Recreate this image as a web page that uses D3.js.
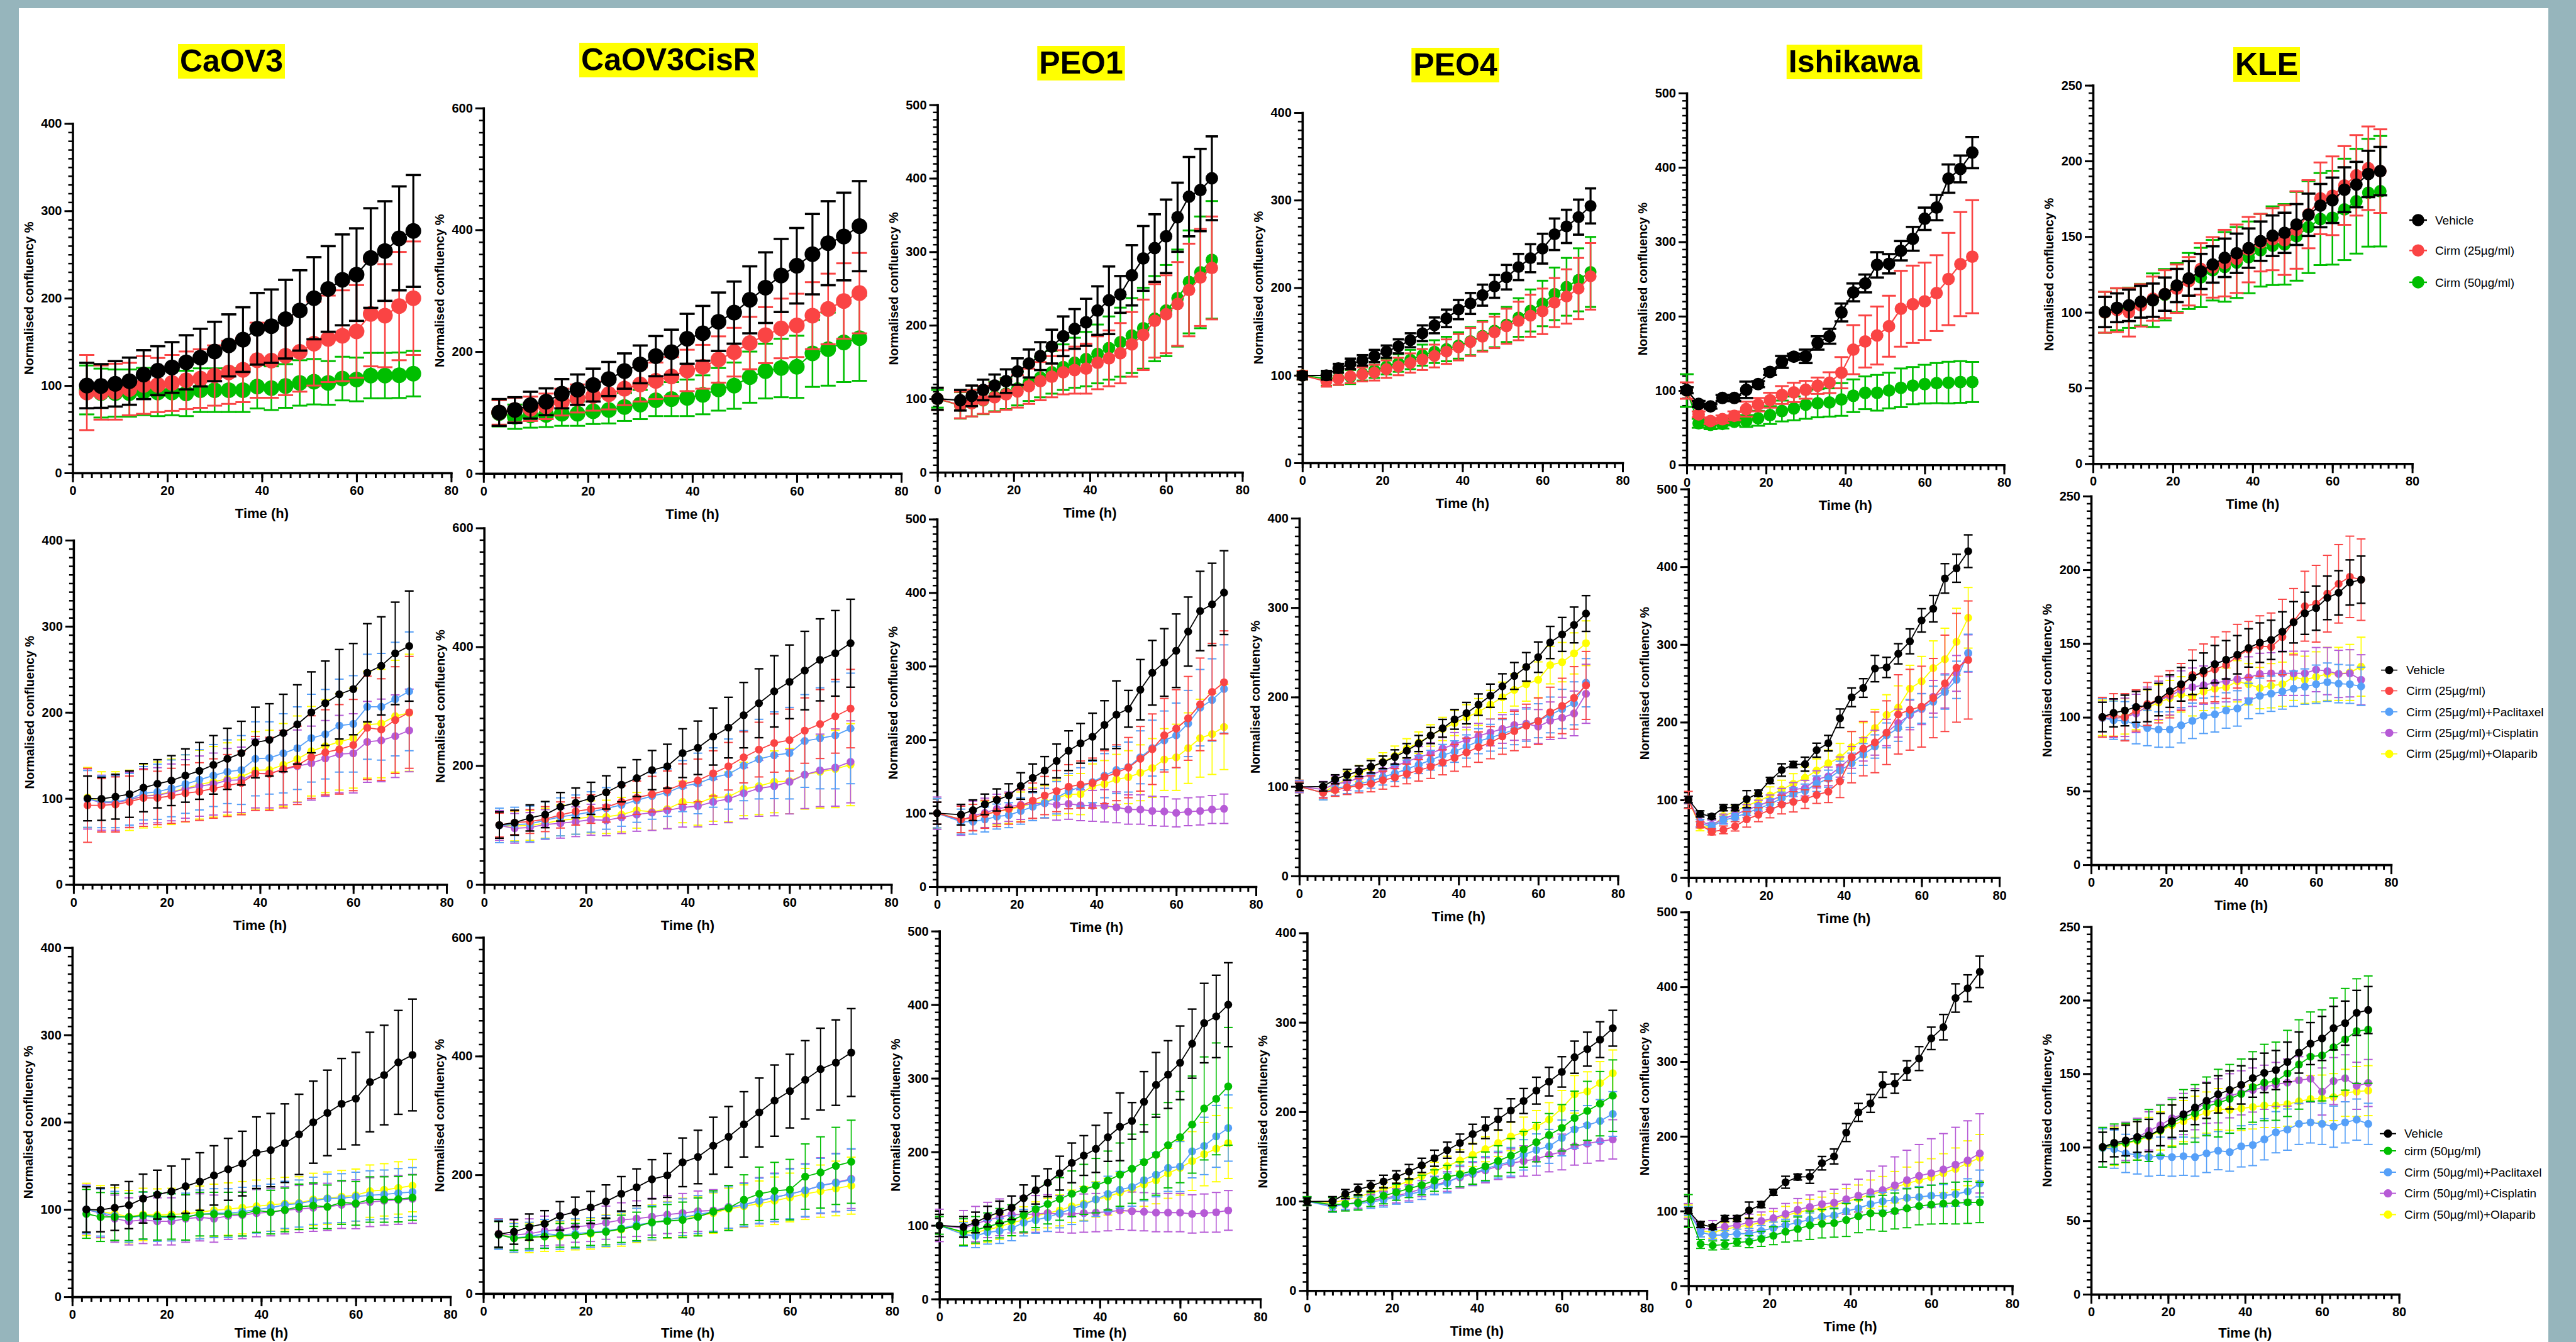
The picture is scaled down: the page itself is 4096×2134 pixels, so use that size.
<!DOCTYPE html>
<html>
<head>
<meta charset="utf-8">
<script src="https://cdnjs.cloudflare.com/ajax/libs/d3/7.8.5/d3.min.js"></script>
<style>
  body { margin: 0; background: #96b5bc; }
  svg { display: block; }
</style>
</head>
<body>
<script>
// time points (h)
var TIME_A = [3,6,9,12,15,18,21,24,27,30,33,36,39,42,45,48,51,54,57,60,63,66,69,72];
var TIME_B = [0,6,9,12,15,18,21,24,27,30,33,36,39,42,45,48,51,54,57,60,63,66,69,72];
var TIME_C = [0,3,6,9,12,15,18,21,24,27,30,33,36,39,42,45,48,51,54,57,60,63,66,69,72];

// ---- CaOV3 ----
var caov3_vehicle    = [100,99.5,102,105,112.5,117,120.7,126.6,132,139,146,152.6,165,168,176,186,200,210.6,221,227,246,254,268.5,277];
var caov3_vehicle_sd = [26,25,26,27,28,28,29,31,33,34,35.5,37,41,42,45,46,47,49,52,53,57,57,59.5,64];
var caov3_c25        = [92,92,93,96,100.6,100.6,103,106,108,111.5,115,118,129,128.5,134,138.5,148,153.5,157,162,182,180,191,200];
var caov3_c25_sd     = [43,31,32,30,33,31,32,33,33.5,34.5,36,37,43,42.5,45,45.5,48,49.5,52,53,60,59,62,65];
var caov3_c50        = [95,91.4,91.4,91.4,93.2,92,92,91,94.7,94.7,94.7,94.7,98.8,97,99.5,103,104.4,103,108,107,111.4,111.4,111.8,113.6];
var caov3_c50_sd     = [28,28,27,27,27,27,26,26,25,25,25,25,25,25,25,26,26,25,25,25,26,26,26,26];
var caov3_c25_pac    = [99.4,96,96,99,106,107.7,111.7,116.7,121.6,126.6,131,133,146,147,152.4,158.4,170,174.6,184.6,186.6,206.5,206.5,215.4,224.4];
var caov3_c25_pac_sd = [33,30,30,30,31,32,33,34,35,36,37,40,43,42,46,48,51,52,54,56,61,62,66,69];
var caov3_c25_cis    = [99.4,95,95,98.4,102.7,103.7,107,111,114.3,116.7,121,121.6,129,129,133.5,137.5,141,146.5,151.5,152.4,165.7,167.4,172.3,179];
var caov3_c25_cis_sd = [35,32,32,32,32,32,33,34,35,36,37,38,40,40,41,42,43,44,45,46,47,48,48,48];
var caov3_c25_ola    = [101,96,96,97.8,102.7,104.4,107.7,111.7,116,119.3,122.6,125,132.6,133.2,139,145.8,154.8,160.7,165.7,170,185.6,187,195.5,199.5];
var caov3_c25_ola_sd = [35,35,35,35,37,38,38,39,40,41,42,43,45,46,48,50,52,54,56,58,62,63,65,68];
var caov3_c50_pac    = [100,96.5,92.7,90.5,92.7,90.5,91,91.7,94.3,95.8,95.8,97.4,100,102,105.3,106.8,110,112.5,113,114.7,116.3,117.2,118.8,120];
var caov3_c50_pac_sd = [27,27,28,28,27,27,27,27,28,28,28,28,27,27,27,27,27,28,28,28,28,28,28,28];
var caov3_c50_cis    = [100,95.8,89.5,86.4,88,86.4,86.4,89.5,91,89.5,92.7,93.6,95.8,96.8,99,100.5,102,103,105.3,106,108.4,110,111,112.2];
var caov3_c50_cis_sd = [28,28,27,27,27,27,27,27,27,27,27,27,27,27,27,27,27,27,27,28,28,28,28,28];
var caov3_c50_ola    = [100,97.4,95,91.7,94.3,93.6,94.3,95,96.8,99,100.5,102,103.7,105.3,106.8,107.5,111.5,113,114.7,116.3,121,122.5,124.7,127.3];
var caov3_c50_ola_sd = [30,30,30,30,30,30,30,30,30,30,30,30,30,30,30,30,30,30,30,30,30,30,30,30];

// ---- CaOV3CisR ----
var cisr_vehicle    = [100,104,112,117.6,130.8,137.4,145,155,168,179,192.5,199,221,230,249,264,285,305,325,341,360,378,389,406];
var cisr_vehicle_sd = [22,21,22,22,24,25,27,28,29,31,33,37,41,45,48,51,55,58,60,62,66,69,72,74];
var cisr_c25        = [100,104,106,110,117,123,127,130,139,146,152,159,169,175,187,199,214,227,238,243,259,270,283,296];
var cisr_c25_sd     = [20,20,20,21,22,23,24,25,27,28,30,32,34,36,38,40,43,46,49,52,55,58,62,66];
var cisr_c50        = [99,93,95,96,98,98,102,104,109,113,120,122,124,129,138,144,158,168,173,175,197,204,215,222];
var cisr_c50_sd     = [22,20,20,20,20,20,21,22,23,24,26,28,30,32,35,38,42,45,48,51,55,60,65,70];
var cisr_c25_pac    = [99.4,101,102,108,113.8,117.6,122,128,134,141.6,148.8,154.6,165.6,170,180,185.8,200,211,217.5,221,241.5,246,251,262.6];
var cisr_c25_pac_sd = [29,29,30,31,32,33,34,35,36,37,39,40,43,51,50,59,59,67,73,77,78,85,90,93];
var cisr_c25_cis    = [99.4,94.6,96,101,103,105.6,109,108,112.8,117.6,121,124.8,129.6,132,139,144,153.6,161.8,165.6,172.8,184.8,192,196.8,206.4];
var cisr_c25_cis_sd = [25,25,25,25,25,25,26,26,27,28,30,31,33,35,38,40,43,47,50,54,57,61,65,69];
var cisr_c25_ola    = [99.4,98.4,99.4,103,108,110.4,113.8,113.8,117.6,124.8,122.4,127,139,136.8,146.4,147.4,160.8,165.6,172.8,174,184.8,189.6,194.4,201.6];
var cisr_c25_ola_sd = [25,25,25,25,26,26,27,28,29,30,31,33,35,37,40,42,45,48,52,55,58,61,65,69];
var cisr_c50_pac    = [99.4,93.8,96,100.8,98.5,100.8,103,105.4,110,115.6,119.3,123.9,128.5,133,137.8,144.7,149.3,156.3,161.8,167.8,173.8,181.7,186.3,191.9];
var cisr_c50_pac_sd = [25,24,24,24,24,25,25,26,27,28,29,30,31,32,33,35,36,38,40,42,44,46,49,52];
var cisr_c50_cis    = [100.8,98.5,100.8,105.4,107.7,112.3,114.7,119.3,123.9,126.2,129.4,133,135.5,138.7,140,146,149.3,156.3,161.8,167.8,173.8,181.7,187.2,193.2];
var cisr_c50_cis_sd = [25,25,25,25,26,26,27,28,29,30,31,32,33,34,35,36,37,39,41,43,45,47,49,50];
var cisr_c50_ola    = [100.8,93.8,93.8,96,96,98.5,100.8,105.4,107.7,114.7,119.3,123.9,128.5,130.8,135.5,142.4,147,151.6,156.3,161.8,167.8,172.5,177,181.7];
var cisr_c50_ola_sd = [25,25,25,25,25,25,26,27,28,29,30,31,32,33,34,35,36,38,40,41,43,44,46,48];

// ---- PEO1 ----
var peo1_vehicle    = [100,98,104,112,118,124,137,148,158,171,185,195,204,220,234,242,268,291,305,321,347,375,384,400];
var peo1_vehicle_sd = [15,14,14,14,15,16,18,19,19,23,27,27,32,33,46,25,41,44,46,50,47,54,56,57];
var peo1_c25        = [100,91.5,94,98.5,102,106,110,117,124,130,136,139,141,149,155,162,174,187,206,215,229,248,265,278];
var peo1_c25_sd     = [15,18,18,19,20,21,22,24,26,28,30,32,34,36,38,41,44,48,50,53,57,63,66,70];
var peo1_c50        = [100,91,94,98,103,107,114,122,129,136,143,149,154,161,169,177,186,196,209,220,237,259,272,289];
var peo1_c50_sd     = [12,18,18,19,20,21,23,25,27,29,31,34,37,40,43,47,51,55,58,62,66,70,76,80];
var peo1_c25_pac    = [100,88.5,88.5,91.5,95.4,97.3,103,108.8,113.8,121,130,135.8,142.3,151,158.8,162.7,176,188.5,199,205.8,222,243.5,254,269];
var peo1_c25_pac_sd = [20,17,17,17,17,17,18,19,20,22,24,26,28,30,32,34,36,38,40,44,45,52,56,60];
var peo1_c25_cis    = [100,90,96.5,100.4,105.8,108.8,111.5,112.7,113.5,111.5,112.7,110.8,110,110,108,105,105,103,102.3,100.4,102,103,105,106];
var peo1_c25_cis_sd = [22,20,20,20,20,20,20,20,20,21,21,21,21,22,21,20,20,20,20,19,19,19,19,20];
var peo1_c25_ola    = [100,91.5,94,98.5,102.3,105,108.8,113.5,115.4,121,125.4,126,137,139.6,146,149,155,161.5,173,176,188.5,202,207.7,217.3];
var peo1_c25_ola_sd = [20,18,18,18,18,19,20,21,22,24,26,28,30,32,34,36,38,40,42,45,48,53,55,58];
var peo1_c50_pac    = [100,87.6,85.8,90.6,92.5,96.2,103.7,107.4,111,116.7,122.3,127.9,135.3,142.8,148.4,152.1,161.4,168.9,178.2,180,200.6,208,221,232.3];
var peo1_c50_pac_sd = [15,16,16,16,17,17,18,18,19,20,21,22,23,24,25,26,28,30,32,34,36,39,42,45];
var peo1_c50_cis    = [100,96.2,101.8,107.4,111,114.8,114.8,115.6,116.7,115.6,115.6,116.7,117.4,118.6,120.4,119.3,118.6,117.4,117.4,117.4,115.6,116.7,117.8,120.4];
var peo1_c50_cis_sd = [22,24,24,24,25,25,25,25,25,25,26,26,26,26,26,26,26,26,26,26,26,26,27,27];
var peo1_c50_ola    = [100,89.5,90.6,94.3,98,103.7,107.4,113,116.7,120.4,126,129.8,135.3,139,144.7,149.1,155.9,161.4,170.8,178.2,187.5,196.9,204.3,211.8];
var peo1_c50_ola_sd = [15,16,16,17,17,18,18,19,20,21,22,23,24,25,27,28,30,32,34,37,40,43,45,48];

// ---- PEO4 ----
var peo4_vehicle    = [99.5,100,108,113,117,122,127,133,140,148,157,165,175,182,191.5,201.5,212,223.6,233.7,244.6,261,270,280.6,293.4];
var peo4_vehicle_sd = [4,5,5,6,6,7,7,8,8,9,9,10,11,12,12,13,14,15,16,17,18,19,20,20];
var peo4_c25        = [100,93,96,99,101,103,107,110,114,118,122,127,132,138,144,149,156,162,168,173,183,190,199,213];
var peo4_c25_sd     = [5,6,7,8,8,9,10,10,11,12,13,14,15,16,17,18,20,22,24,26,28,31,35,38];
var peo4_c50        = [100,96,97,98,102,106,110,114,118,123,127,130,134,139,145,151,158,166,174,182,193,201,209,218];
var peo4_c50_sd     = [5,8,8,8,8,9,9,10,11,12,13,14,15,16,17,19,20,22,24,26,30,33,36,40];
var peo4_c25_pac    = [100,93,98,100,103,106,110.6,114.6,119.5,124.4,129.3,135,139,144.7,150.6,154.5,158.8,163.7,168.6,173.5,180,186.6,193,216];
var peo4_c25_pac_sd = [6,8,8,8,8,8,9,9,10,10,11,12,12,13,14,15,16,17,18,19,20,22,24,27];
var peo4_c25_cis    = [100,96.6,103,104.7,109.7,113,118,122.7,127.7,132.6,136.8,142.4,147.3,152.2,156.5,160.4,164.3,168.6,170.2,167,173.5,176.8,181.7,203.6];
var peo4_c25_cis_sd = [7,9,9,9,10,10,10,11,11,12,12,13,13,14,14,15,16,17,18,19,21,23,25,33];
var peo4_c25_ola    = [100,93,101.5,108,114.6,121,127.7,134.2,142.4,149,157,164.3,170.9,177.4,183.3,191.5,199.7,207.9,214.4,219.3,235.7,239,248.8,260.2];
var peo4_c25_ola_sd = [7,8,8,9,9,10,10,11,11,12,12,13,14,14,15,16,17,18,19,20,21,22,23,25];
var peo4_c50_pac    = [100,93.5,96.7,97.3,99,101.4,104.6,107.7,110.9,117.2,120.3,128.2,131.3,136,140.8,144,151.8,157.2,161.3,170.7,180.2,184.9,189.6,197.5];
var peo4_c50_pac_sd = [5,6,6,7,7,8,8,9,9,10,11,12,13,14,15,16,17,18,19,20,21,22,24,25];
var peo4_c50_cis    = [100,95,96,99,100.8,103,106,109.3,114,117.8,121.9,126.6,130.4,134.5,139.2,142.4,144.9,147,151.8,155,161.3,164.4,167,169.1];
var peo4_c50_cis_sd = [5,6,6,7,7,8,8,9,9,10,11,12,13,14,15,16,17,18,19,20,21,22,22,22];
var peo4_c50_ola    = [100,98.3,101.4,104.6,109.3,113,117.2,122.5,128.2,133.5,139.2,145.5,151.8,158.1,165,172.3,177,183.3,191.2,203.8,219.5,222.7,232.1,243.1];
var peo4_c50_ola_sd = [5,6,6,7,7,8,8,9,10,10,11,12,13,14,15,16,17,18,19,20,21,22,24,26];

// ---- Ishikawa ----
var ishi_vehicle    = [100.4,82,78.7,90,90,101,108.6,125,138.5,145.5,146,164,173,205,232,244,269,270.5,288,304,331,346,385,398,420];
var ishi_vehicle_sd = [4,4,3,4,4,11,4,4,8,4,9,9,10,12,12,12,17,13,13,16,15,17,19,18,21];
var ishi_c25        = [100,68,59,61.5,66,75,81,87,94,97.5,101,106.5,110.6,124,155,166,174,186.5,210,216,220,231,250,270,280];
var ishi_c25_sd     = [11,4,4,5,6,10,9,10,12,13,12,11,14,21,33,35,39,41,51,52,52,51,62,70,76];
var ishi_c50        = [100,56,54,55,58,59,62.7,67,72.5,76,81,83,84,88,93,97,97,100,103.7,106.6,108.6,110,110.7,111.5,111.5];
var ishi_c50_sd     = [22,6,6,6,5,8,10,12,14,16,19,19,19,22,22,22,24,24,26,25,26,27,28,28,27];
var ishi_c25_pac    = [100,70,65.5,73.8,77.6,83.2,88.9,94.5,102,107.7,111.4,120.9,127.3,137.8,147.2,158.5,168.7,183,192.4,211.2,217.6,226.3,238.7,254.5,289.2];
var ishi_c25_pac_sd = [4,5,5,5,5,6,6,7,8,8,9,10,11,12,13,14,15,16,17,18,19,20,22,24,24];
var ishi_c25_cis    = [100,72,68,75.7,81.3,87,92.6,98.3,105.8,113.3,115.2,126.5,130.3,142.3,154.7,165,173.6,186.7,198.8,209.3,216.9,232.7,240.2,262.8,288.4];
var ishi_c25_cis_sd = [5,6,6,6,6,7,7,8,9,9,10,11,12,13,14,15,16,17,18,19,20,21,22,23,24];
var ishi_c25_ola    = [100,66.3,64.4,79.4,85,92.6,98.3,105.8,113.3,120.8,128.4,137.8,147.2,154.7,168,177.3,192.4,209.3,218.8,243.2,252.6,269.6,280.9,303.5,334.3];
var ishi_c25_ola_sd = [5,6,6,7,8,9,10,11,12,13,14,15,17,18,20,22,24,26,28,30,32,35,40,43,39];
var ishi_c50_pac    = [100,71.6,67.8,67.8,69.7,69.7,73.5,77.2,81,84.8,88.5,92.3,94.2,99.8,103.6,109.3,113,115,117.6,118.7,120.6,120.6,122.5,126.2,136.8];
var ishi_c50_pac_sd = [6,6,6,6,6,7,7,8,8,9,9,10,10,11,11,12,12,13,13,14,14,15,16,17,18];
var ishi_c50_cis    = [100,75.4,77.2,79.1,81,84.8,86.7,90.4,96.1,101.7,105.5,109.3,111.2,115.7,120.6,125.5,128.1,134.5,141.3,147,150.7,155.6,162,167.7,177.1];
var ishi_c50_cis_sd = [10,10,10,10,11,11,12,13,14,15,16,17,18,20,22,28,32,38,40,42,46,48,50,53,53];
var ishi_c50_ola    = [100,73.5,71.6,75.4,79.1,81,84.8,88.5,94.2,98,101.7,103.6,107.4,113,116.8,122.5,126.2,131.9,136.8,141.3,145,150.7,156.4,163.9,171.4];
var ishi_c50_ola_sd = [8,8,8,9,9,10,10,11,12,13,14,15,16,17,18,19,20,21,22,24,25,26,28,30,31];

// ---- KLE ----
var kle_vehicle    = [100.2,103,104.6,107,108,112,117.7,122.4,127,131.6,136,139,142.4,147,150.6,152.5,158,164.4,170.5,174,181,184.4,191.4,193.3];
var kle_vehicle_sd = [10,9.5,10.4,10.5,11,11,11,11.4,11.6,12,12.7,13,13,13,13.4,13.3,13.5,14,14.3,15,14.8,15,15.3,16];
var kle_c25        = [100,101.5,100,104.6,109,112,115.6,120.5,128.7,129.7,132.5,135.4,141.4,146,148.3,147.7,154.4,164.8,175.3,177,183.8,190.5,195.2,193.3];
var kle_c25_sd     = [13.5,14.5,16,14,14.6,15.8,16,16,17,20,22,22.6,21.6,19,20.5,23,25.6,22.5,23.7,26,26,26.6,27.6,27.6];
var kle_c50        = [100,102,103,105,108,111.6,116.3,120.7,123,127.8,130,132.9,136.3,141,144,144.9,150.2,156.3,161.6,162.5,168,173.4,179,180];
var kle_c50_sd     = [13.5,13.8,13.3,13.8,17.7,17,16.2,18.5,19.6,20,23,23.4,23.7,24,26,26.6,29.3,30.4,30.4,31,33.5,34.6,35.6,36.5];
var kle_c25_pac    = [99.6,98,97.6,95,92.7,91.7,91.7,94.6,97.6,101,102,104.6,106,111,114.5,116,117.5,119.4,120.8,122.4,123.8,122.8,122.4,121];
var kle_c25_pac_sd = [13,13,13,13,12,12,12,12,12,12,12,12,12,12,12,12,12,12,12,13,13,13,13,13];
var kle_c25_cis    = [99.6,99.2,100,102.6,107.5,111.5,114.5,118.5,120.4,121.8,123.4,124.4,125.8,127,129.4,129.8,129.8,129.8,129.8,132.3,131.3,129.4,129.8,125.4];
var kle_c25_cis_sd = [13,13,13,13,13,13,13,13,13,13,14,14,14,14,14,14,15,15,15,15,16,16,16,17];
var kle_c25_ola    = [99.6,99.2,100.6,103.6,106.5,110,113,115.5,113.9,117.5,119.4,120.4,124.4,122.4,119.8,121.4,122.4,127.4,125.4,127.4,129.4,129.4,130.4,134.3];
var kle_c25_ola_sd = [12,12,12,12,12,12,12,12,13,13,13,13,14,14,14,15,15,16,16,17,18,18,19,20];
var kle_c50_pac    = [99.6,98.7,95.8,94.8,93.3,93.9,93.3,93.9,93.3,95.8,97.7,96.7,100.6,101.5,105.4,110.2,112,115.9,116.9,115.9,114,116.9,118.8,115.9];
var kle_c50_pac_sd = [13,13,13,13,13,13,13,13,13,13,13,13,14,14,14,14,14,14,14,14,14,14,14,14];
var kle_c50_cis    = [99.6,101.5,104,106.7,111.1,115,119.7,122.6,125.9,130.3,131.6,135,137,138.9,140.8,142.7,144,145.6,146.6,137.9,145,146.9,141.8,143.7];
var kle_c50_cis_sd = [13,13,13,13,13,14,14,14,14,14,15,15,15,15,15,15,16,16,16,16,16,16,16,16];
var kle_c50_ola    = [99.6,100.6,102.5,104.4,107.3,111.1,115,117.8,120.7,123.6,125.9,125.5,126.4,127.4,128.4,128.4,129.3,131.2,132.8,133.1,134.1,137,137.9,138.5];
var kle_c50_ola_sd = [13,13,13,13,13,13,14,14,14,14,14,14,15,15,15,15,15,15,16,16,16,16,17,17];

var cell_lines = ["CaOV3", "CaOV3CisR", "PEO1", "PEO4", "Ishikawa", "KLE"];
var legend_row1 = ["Vehicle", "Cirm (25\u00b5g/ml)", "Cirm (50\u00b5g/ml)"];
var legend_row2 = ["Vehicle", "Cirm (25\u00b5g/ml)", "Cirm (25\u00b5g/ml)+Paclitaxel", "Cirm (25\u00b5g/ml)+Cisplatin", "Cirm (25\u00b5g/ml)+Olaparib"];
var legend_row3 = ["Vehicle", "cirm (50\u00b5g/ml)", "Cirm (50\u00b5g/ml)+Paclitaxel", "Cirm (50\u00b5g/ml)+Cisplatin", "Cirm (50\u00b5g/ml)+Olaparib"];

var BLACK = "#000000", RED = "#fa4444", GREEN = "#00be00", BLUE = "#56a0f8", PURPLE = "#b65ad6", YELLOW = "#ffff00";
var FONT = "'Liberation Sans', Arial, Helvetica, sans-serif";

var svg = d3.select("body").append("svg")
    .attr("width", 4096)
    .attr("height", 2134);

svg.append("rect").attr("width", 4096).attr("height", 2134).attr("fill", "#96b5bc");
svg.append("rect").attr("x", 30).attr("y", 13).attr("width", 4022).attr("height", 2121).attr("fill", "#ffffff");

function S(v, sd, color) { return {v: v, sd: sd, color: color}; }

// data table per cell line: time grid + series in draw order for each row
var table = {
    CaOV3: {t: TIME_A, rows: [
        [S(caov3_c50, caov3_c50_sd, GREEN), S(caov3_c25, caov3_c25_sd, RED), S(caov3_vehicle, caov3_vehicle_sd, BLACK)],
        [S(caov3_c25_ola, caov3_c25_ola_sd, YELLOW), S(caov3_c25_cis, caov3_c25_cis_sd, PURPLE), S(caov3_c25_pac, caov3_c25_pac_sd, BLUE), S(caov3_c25, caov3_c25_sd, RED), S(caov3_vehicle, caov3_vehicle_sd, BLACK)],
        [S(caov3_c50_ola, caov3_c50_ola_sd, YELLOW), S(caov3_c50_cis, caov3_c50_cis_sd, PURPLE), S(caov3_c50_pac, caov3_c50_pac_sd, BLUE), S(caov3_c50, caov3_c50_sd, GREEN), S(caov3_vehicle, caov3_vehicle_sd, BLACK)]]},
    CaOV3CisR: {t: TIME_A, rows: [
        [S(cisr_c50, cisr_c50_sd, GREEN), S(cisr_c25, cisr_c25_sd, RED), S(cisr_vehicle, cisr_vehicle_sd, BLACK)],
        [S(cisr_c25_ola, cisr_c25_ola_sd, YELLOW), S(cisr_c25_cis, cisr_c25_cis_sd, PURPLE), S(cisr_c25_pac, cisr_c25_pac_sd, BLUE), S(cisr_c25, cisr_c25_sd, RED), S(cisr_vehicle, cisr_vehicle_sd, BLACK)],
        [S(cisr_c50_ola, cisr_c50_ola_sd, YELLOW), S(cisr_c50_cis, cisr_c50_cis_sd, PURPLE), S(cisr_c50_pac, cisr_c50_pac_sd, BLUE), S(cisr_c50, cisr_c50_sd, GREEN), S(cisr_vehicle, cisr_vehicle_sd, BLACK)]]},
    PEO1: {t: TIME_B, rows: [
        [S(peo1_c50, peo1_c50_sd, GREEN), S(peo1_c25, peo1_c25_sd, RED), S(peo1_vehicle, peo1_vehicle_sd, BLACK)],
        [S(peo1_c25_ola, peo1_c25_ola_sd, YELLOW), S(peo1_c25_cis, peo1_c25_cis_sd, PURPLE), S(peo1_c25_pac, peo1_c25_pac_sd, BLUE), S(peo1_c25, peo1_c25_sd, RED), S(peo1_vehicle, peo1_vehicle_sd, BLACK)],
        [S(peo1_c50_ola, peo1_c50_ola_sd, YELLOW), S(peo1_c50_cis, peo1_c50_cis_sd, PURPLE), S(peo1_c50_pac, peo1_c50_pac_sd, BLUE), S(peo1_c50, peo1_c50_sd, GREEN), S(peo1_vehicle, peo1_vehicle_sd, BLACK)]]},
    PEO4: {t: TIME_B, rows: [
        [S(peo4_c50, peo4_c50_sd, GREEN), S(peo4_c25, peo4_c25_sd, RED), S(peo4_vehicle, peo4_vehicle_sd, BLACK)],
        [S(peo4_c25_ola, peo4_c25_ola_sd, YELLOW), S(peo4_c25_cis, peo4_c25_cis_sd, PURPLE), S(peo4_c25_pac, peo4_c25_pac_sd, BLUE), S(peo4_c25, peo4_c25_sd, RED), S(peo4_vehicle, peo4_vehicle_sd, BLACK)],
        [S(peo4_c50_ola, peo4_c50_ola_sd, YELLOW), S(peo4_c50_cis, peo4_c50_cis_sd, PURPLE), S(peo4_c50_pac, peo4_c50_pac_sd, BLUE), S(peo4_c50, peo4_c50_sd, GREEN), S(peo4_vehicle, peo4_vehicle_sd, BLACK)]]},
    Ishikawa: {t: TIME_C, rows: [
        [S(ishi_c50, ishi_c50_sd, GREEN), S(ishi_c25, ishi_c25_sd, RED), S(ishi_vehicle, ishi_vehicle_sd, BLACK)],
        [S(ishi_c25_ola, ishi_c25_ola_sd, YELLOW), S(ishi_c25_cis, ishi_c25_cis_sd, PURPLE), S(ishi_c25_pac, ishi_c25_pac_sd, BLUE), S(ishi_c25, ishi_c25_sd, RED), S(ishi_vehicle, ishi_vehicle_sd, BLACK)],
        [S(ishi_c50_ola, ishi_c50_ola_sd, YELLOW), S(ishi_c50_cis, ishi_c50_cis_sd, PURPLE), S(ishi_c50_pac, ishi_c50_pac_sd, BLUE), S(ishi_c50, ishi_c50_sd, GREEN), S(ishi_vehicle, ishi_vehicle_sd, BLACK)]]},
    KLE: {t: TIME_A, rows: [
        [S(kle_c50, kle_c50_sd, GREEN), S(kle_c25, kle_c25_sd, RED), S(kle_vehicle, kle_vehicle_sd, BLACK)],
        [S(kle_c25_ola, kle_c25_ola_sd, YELLOW), S(kle_c25_cis, kle_c25_cis_sd, PURPLE), S(kle_c25_pac, kle_c25_pac_sd, BLUE), S(kle_c25, kle_c25_sd, RED), S(kle_vehicle, kle_vehicle_sd, BLACK)],
        [S(kle_c50_ola, kle_c50_ola_sd, YELLOW), S(kle_c50_cis, kle_c50_cis_sd, PURPLE), S(kle_c50_pac, kle_c50_pac_sd, BLUE), S(kle_c50, kle_c50_sd, GREEN), S(kle_vehicle, kle_vehicle_sd, BLACK)]]}
};

// panel frames in page pixels: x of 0 h and 80 h, y of top and zero
var layout = [
    {line: "CaOV3",     row: 0, x0: 115.5, x1: 717.4,  yt: 196.4, yb: 752,   ymax: 400, step: 100, minor: 10, r: 12.5, cap: 12},
    {line: "CaOV3CisR", row: 0, x0: 768.8, x1: 1433,   yt: 171.8, yb: 752.7, ymax: 600, step: 200, minor: 20, r: 12.5, cap: 12},
    {line: "PEO1",      row: 0, x0: 1490.6, x1: 1975.4, yt: 166.6, yb: 751,  ymax: 500, step: 100, minor: 10, r: 10,   cap: 10},
    {line: "PEO4",      row: 0, x0: 2070.8, x1: 2580,  yt: 179,   yb: 736,   ymax: 400, step: 100, minor: 10, r: 9.5,  cap: 9},
    {line: "Ishikawa",  row: 0, x0: 2682,  x1: 3186.5, yt: 148,   yb: 739.3, ymax: 500, step: 100, minor: 10, r: 10,   cap: 11},
    {line: "KLE",       row: 0, x0: 3328,  x1: 3835.6, yt: 135.6, yb: 737.3, ymax: 250, step: 50,  minor: 5,  r: 10,   cap: 11},

    {line: "CaOV3",     row: 1, x0: 116.9, x1: 710,    yt: 859,   yb: 1406.5, ymax: 400, step: 100, minor: 10},
    {line: "CaOV3CisR", row: 1, x0: 769.7, x1: 1417.2, yt: 839.5, yb: 1406.5, ymax: 600, step: 200, minor: 20},
    {line: "PEO1",      row: 1, x0: 1490,  x1: 1997,   yt: 825.5, yb: 1410,   ymax: 500, step: 100, minor: 10},
    {line: "PEO4",      row: 1, x0: 2065.9, x1: 2572.5, yt: 824,  yb: 1392.8, ymax: 400, step: 100, minor: 10},
    {line: "Ishikawa",  row: 1, x0: 2684.7, x1: 3179,  yt: 777.6, yb: 1395.6, ymax: 500, step: 100, minor: 10},
    {line: "KLE",       row: 1, x0: 3325,  x1: 3802,   yt: 788.8, yb: 1375.1, ymax: 250, step: 50,  minor: 5},

    {line: "CaOV3",     row: 2, x0: 114.8, x1: 716,    yt: 1506.8, yb: 2062.1, ymax: 400, step: 100, minor: 10},
    {line: "CaOV3CisR", row: 2, x0: 768.5, x1: 1418.5, yt: 1490.6, yb: 2056.9, ymax: 600, step: 200, minor: 20},
    {line: "PEO1",      row: 2, x0: 1493.7, x1: 2004,  yt: 1480.6, yb: 2065.6, ymax: 500, step: 100, minor: 10},
    {line: "PEO4",      row: 2, x0: 2078.4, x1: 2618.4, yt: 1483.5, yb: 2052.2, ymax: 400, step: 100, minor: 10},
    {line: "Ishikawa",  row: 2, x0: 2684.7, x1: 3199.5, yt: 1450.3, yb: 2044.6, ymax: 500, step: 100, minor: 10},
    {line: "KLE",       row: 2, x0: 3325,  x1: 3814.6, yt: 1473.6, yb: 2058.1, ymax: 250, step: 50,  minor: 5}
];

var titles = [
    {text: "CaOV3", cx: 368, cy: 96},
    {text: "CaOV3CisR", cx: 1063, cy: 94},
    {text: "PEO1", cx: 1719, cy: 99},
    {text: "PEO4", cx: 2314, cy: 102},
    {text: "Ishikawa", cx: 2948, cy: 97},
    {text: "KLE", cx: 3604, cy: 101}
];

function styleAxisText(g, size) {
    g.attr("font-size", size).attr("font-family", FONT).attr("font-weight", "bold");
}

function drawPanel(p) {
    var x = d3.scaleLinear().domain([0, 80]).range([p.x0, p.x1]);
    var y = d3.scaleLinear().domain([0, p.ymax]).range([p.yb, p.yt]);
    var big = p.row === 0;
    var g = svg.append("g");

    // minor ticks
    g.append("g")
        .attr("transform", "translate(0," + p.yb + ")")
        .call(d3.axisBottom(x).tickValues(d3.range(0, 81, 2)).tickFormat("").tickSize(8).tickSizeOuter(0))
        .call(function(a) { a.select(".domain").remove(); })
        .selectAll("line").attr("stroke-width", 3);
    g.append("g")
        .attr("transform", "translate(" + p.x0 + ",0)")
        .call(d3.axisLeft(y).tickValues(d3.range(0, p.ymax + 0.01, p.minor)).tickFormat("").tickSize(7).tickSizeOuter(0))
        .call(function(a) { a.select(".domain").remove(); })
        .selectAll("line").attr("stroke-width", 2.5);

    // major axes
    var xa = g.append("g")
        .attr("transform", "translate(0," + p.yb + ")")
        .call(d3.axisBottom(x).tickValues([0, 20, 40, 60, 80]).tickSize(15).tickSizeOuter(0).tickPadding(6));
    var ya = g.append("g")
        .attr("transform", "translate(" + p.x0 + ",0)")
        .call(d3.axisLeft(y).tickValues(d3.range(0, p.ymax + 0.01, p.step)).tickSize(13).tickSizeOuter(0).tickPadding(4));
    [xa, ya].forEach(function(a) {
        styleAxisText(a, 20);
        a.select(".domain").attr("stroke-width", 3.6).attr("stroke-linecap", "square");
        a.selectAll(".tick line").attr("stroke-width", 3);
    });

    // bottom row titles sit at the page edge, keep them inside
    g.append("text")
        .attr("x", (p.x0 + p.x1) / 2)
        .attr("y", Math.min(p.yb + 72, 2127))
        .attr("text-anchor", "middle")
        .attr("font-family", FONT).attr("font-weight", "bold").attr("font-size", 22)
        .text("Time (h)");

    g.append("text")
        .attr("transform", "translate(" + (p.x0 - 63) + "," + ((p.yt + p.yb) / 2) + ") rotate(-90)")
        .attr("text-anchor", "middle")
        .attr("font-family", FONT).attr("font-weight", "bold").attr("font-size", 20)
        .text("Normalised confluency %");

    // series
    var info = table[p.line];
    var times = info.t;
    var r = big ? p.r : 6.3;
    var cap = big ? p.cap : 7;
    var line = d3.line()
        .x(function(d) { return x(d.t); })
        .y(function(d) { return y(d.v); });

    info.rows[p.row].forEach(function(s) {
        var pts = times.map(function(t, i) { return {t: t, v: s.v[i], e: s.sd[i]}; });
        var bw = big ? (s.color === BLACK ? 3.2 : 2.6) : (s.color === BLACK ? 2 : 1.6);
        var sg = g.append("g").attr("stroke", s.color).attr("fill", s.color);

        sg.selectAll(".bar").data(pts).enter().append("line")
            .attr("x1", function(d) { return x(d.t); })
            .attr("x2", function(d) { return x(d.t); })
            .attr("y1", function(d) { return y(d.v - d.e); })
            .attr("y2", function(d) { return y(d.v + d.e); })
            .attr("stroke-width", bw);
        [1, -1].forEach(function(sign) {
            sg.selectAll(null).data(pts).enter().append("line")
                .attr("x1", function(d) { return x(d.t) - cap; })
                .attr("x2", function(d) { return x(d.t) + cap; })
                .attr("y1", function(d) { return y(d.v + sign * d.e); })
                .attr("y2", function(d) { return y(d.v + sign * d.e); })
                .attr("stroke-width", bw + 0.4);
        });

        sg.append("path")
            .datum(pts)
            .attr("fill", "none")
            .attr("stroke-width", big ? 2.2 : 1.8)
            .attr("d", line);

        sg.selectAll("circle").data(pts).enter().append("circle")
            .attr("cx", function(d) { return x(d.t); })
            .attr("cy", function(d) { return y(d.v); })
            .attr("r", r)
            .attr("stroke", "none");
    });
}

layout.forEach(drawPanel);

// column titles on yellow
titles.forEach(function(tt) {
    var tg = svg.append("g");
    var txt = tg.append("text")
        .attr("x", tt.cx)
        .attr("y", tt.cy + 18)
        .attr("text-anchor", "middle")
        .attr("font-family", FONT).attr("font-weight", "bold").attr("font-size", 50)
        .text(tt.text);
    var bb = txt.node().getBBox();
    tg.insert("rect", "text")
        .attr("x", bb.x - 3).attr("y", bb.y + 1)
        .attr("width", bb.width + 6).attr("height", bb.height - 1)
        .attr("fill", YELLOW);
});

// legends
function drawLegend(labels, colors, mx, tx, ys, r, half, lw) {
    var lg = svg.append("g").attr("font-family", FONT).attr("font-size", 19);
    labels.forEach(function(lab, i) {
        lg.append("line")
            .attr("x1", mx - half).attr("x2", mx + half)
            .attr("y1", ys[i]).attr("y2", ys[i])
            .attr("stroke", colors[i]).attr("stroke-width", lw);
        lg.append("circle").attr("cx", mx).attr("cy", ys[i]).attr("r", r).attr("fill", colors[i]);
        lg.append("text").attr("x", tx).attr("y", ys[i]).attr("dy", "0.35em").text(lab);
    });
}
drawLegend(legend_row1, [BLACK, RED, GREEN], 3845, 3872, [350, 398.3, 448.9], 9.8, 14, 2.5);
drawLegend(legend_row2, [BLACK, RED, BLUE, PURPLE, YELLOW], 3799, 3826, [1065.6, 1098.5, 1131.9, 1165.3, 1198.8], 6.6, 13, 1.6);
drawLegend(legend_row3, [BLACK, GREEN, BLUE, PURPLE, YELLOW], 3797, 3823, [1802.7, 1830, 1864, 1897.6, 1931.4], 6.6, 13, 2);
</script>
</body>
</html>
